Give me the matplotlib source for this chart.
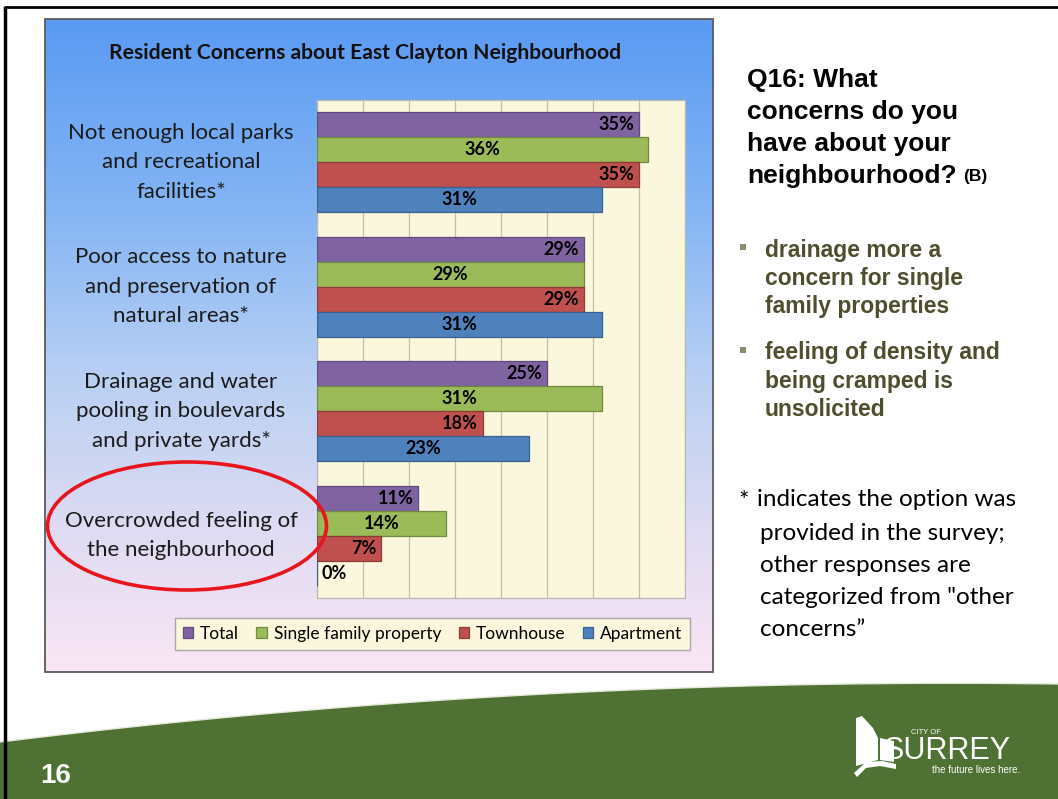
import numpy as np
import matplotlib
matplotlib.use("Agg")
import matplotlib.pyplot as plt
from matplotlib.patches import Rectangle, Ellipse, Polygon
from matplotlib.colors import LinearSegmentedColormap
import matplotlib.transforms as mtransforms

# ---- data -------------------------------------------------------------
categories = [
    "Not enough local parks\nand recreational\nfacilities*",
    "Poor access to nature\nand preservation of\nnatural areas*",
    "Drainage and water\npooling in boulevards\nand private yards*",
    "Overcrowded feeling of\nthe neighbourhood",
]
series_names = ["Total", "Single family property", "Townhouse", "Apartment"]
total = [35, 29, 25, 11]
single_family = [36, 29, 31, 14]
townhouse = [35, 29, 18, 7]
apartment = [31, 31, 23, 0]
x_grid = [0, 5, 10, 15, 20, 25, 30, 35, 40]

chart_title = "Resident Concerns about East Clayton Neighbourhood"
question_lines = ["Q16: What", "concerns do you", "have about your", "neighbourhood?"]
bullet_groups = [
    ["drainage more a", "concern for single", "family properties"],
    ["feeling of density and", "being cramped is", "unsolicited"],
]
footnote_lines = ["indicates the option was", "provided in the survey;",
                  "other responses are", "categorized from \"other",
                  "concerns\u201d"]

# ---- styling ------------------------------------------------------------
W, H = 1058, 799
bar_colors = ["#8064A2", "#9BBB59", "#C0504D", "#4F81BD"]
bar_edges = ["#5E4A7C", "#718A3F", "#8E3A37", "#3A6091"]
label_modes = ["end", "center", "end", "center"]
CAL = ["Lato", "DejaVu Sans"]
ARIAL = ["Liberation Sans", "DejaVu Sans"]

fig = plt.figure(figsize=(W / 100, H / 100), dpi=100)
fig.patch.set_facecolor("white")

# slide canvas in pixel coordinates
bg = fig.add_axes([0, 0, 1, 1])
bg.set_xlim(0, W)
bg.set_ylim(H, 0)
bg.axis("off")

# chart panel with vertical gradient
grad_cmap = LinearSegmentedColormap.from_list(
    "panel",
    [(0.0, "#5A9AF2"), (0.3, "#86B6F4"), (0.55, "#B9D0F3"),
     (0.78, "#DEDBF2"), (1.0, "#FAE6F4")])
grad = np.linspace(0, 1, 256).reshape(-1, 1)
bg.imshow(grad, extent=(45, 713, 672, 19), aspect="auto", cmap=grad_cmap,
          origin="upper", zorder=1)
bg.add_patch(Rectangle((45, 19), 668, 653, fill=False, ec="#5a5a5a",
                       lw=1.3, zorder=2))
bg.text(365, 53, chart_title, ha="center", va="center", fontsize=15.2,
        fontweight="bold", family=CAL, color="#111111", zorder=3)

# green footer band
xs = np.linspace(0, W, 80)
top_edge = 742 - 0.12344 * xs + 6.486e-5 * xs ** 2
band = np.vstack([np.column_stack([xs, top_edge]), [[W, H], [0, H]]])
bg.add_patch(Polygon(band, closed=True, fc="#4F7133", ec="none", zorder=2))
bg.plot(xs, top_edge, color="#e4ead9", lw=1.0, zorder=3)

# slide frame lines
bg.plot([5, 5], [6, H], color="black", lw=2.5, zorder=4, solid_capstyle="butt")
bg.plot([5, W], [7, 7], color="black", lw=2.0, zorder=4, solid_capstyle="butt")

# page number
bg.text(40, 776, "16", color="white", fontsize=20, fontweight="bold",
        family=ARIAL, ha="left", va="center", zorder=5)

# city logo
logo = dict(fc="white", ec="none", zorder=5)
bg.add_patch(Polygon([(856, 766), (856, 718), (862, 716), (873, 728),
                      (878, 738), (878, 760)], **logo))
bg.add_patch(Polygon([(880, 738), (894, 741), (894, 762), (880, 760)], **logo))
bg.add_patch(Polygon([(854, 773), (866, 762), (882, 761), (896, 764),
                      (896, 769), (880, 766), (866, 768), (857, 777)], **logo))
bg.text(911, 734, "CITY OF", color="white", fontsize=5.5, family=ARIAL,
        ha="left", va="baseline", zorder=5)
bg.text(884, 759, "SURREY", color="white", fontsize=22, family=ARIAL,
        ha="left", va="baseline", zorder=5)
bg.text(1020, 773, "the future lives here.", color="white", fontsize=7,
        family=ARIAL, ha="right", va="baseline", zorder=5)

# question heading
q_y = [80, 112, 144, 176]
last = None
for line, y in zip(question_lines, q_y):
    last = bg.text(747, y, line, fontsize=19, fontweight="bold", family=ARIAL,
                   ha="left", va="center", color="black", zorder=5)
bg.annotate("(B)", xy=(1, 0.5), xycoords=last, xytext=(7, 0),
            textcoords="offset pixels", fontsize=12.5, fontweight="bold",
            family=ARIAL, ha="left", va="center", color="black", zorder=5)

# bullet points
olive = "#4E4E2E"
bullet_start = [250, 353]
for lines, y0 in zip(bullet_groups, bullet_start):
    bg.add_patch(Rectangle((740, y0 - 6), 6, 6, fc="#8C8C70", ec="none", zorder=5))
    for i, line in enumerate(lines):
        bg.text(765, y0 + i * 28.5, line, fontsize=16.5, fontweight="bold",
                family=ARIAL, ha="left", va="center", color=olive, zorder=5)

# footnote
foot_y = [500, 533, 566, 598, 630]
bg.text(739, foot_y[0], "*", fontsize=17.5, family=CAL, ha="left",
        va="center", color="black", zorder=5)
for i, (line, y) in enumerate(zip(footnote_lines, foot_y)):
    bg.text(757 if i == 0 else 760, y, line, fontsize=17.5, family=CAL,
            ha="left", va="center", color="black", zorder=5)

# ---- bar chart ----------------------------------------------------------
ax = fig.add_axes([317 / W, 1 - 598 / H, 368 / W, 498 / H])
ax.set_facecolor("#FAF7DC")
ax.set_xlim(x_grid[0], x_grid[-1])
ax.set_ylim(len(categories) - 0.5, -0.5)
ax.set_xticks(x_grid)
ax.set_yticks([])
ax.tick_params(axis="x", length=0, labelbottom=False)
ax.grid(axis="x", color="#C2BFAA", lw=0.9)
ax.set_axisbelow(True)
for sp in ax.spines.values():
    sp.set_color("#B8B8B8")
    sp.set_linewidth(0.9)

series = [total, single_family, townhouse, apartment]
bar_h = 0.2
y_base = np.arange(len(categories))
handles = []
for k, (vals, name, col, edge, mode) in enumerate(
        zip(series, series_names, bar_colors, bar_edges, label_modes)):
    ypos = y_base + (k - 1.5) * bar_h
    bars = ax.barh(ypos, vals, height=bar_h, color=col, edgecolor=edge,
                   linewidth=0.9, label=name, zorder=3)
    handles.append(bars)
    for v, yy in zip(vals, ypos):
        txt = f"{v}%"
        if v == 0:
            ax.annotate(txt, xy=(0, yy), xytext=(5, 0), textcoords="offset pixels",
                        ha="left", va="center", fontsize=13, fontweight="bold",
                        family=CAL, color="black", zorder=4)
        elif mode == "end":
            ax.annotate(txt, xy=(v, yy), xytext=(-5, 0), textcoords="offset pixels",
                        ha="right", va="center", fontsize=13, fontweight="bold",
                        family=CAL, color="black", zorder=4)
        else:
            ax.text(v / 2, yy, txt, ha="center", va="center", fontsize=13,
                    fontweight="bold", family=CAL, color="black", zorder=4)

# category labels to the left of the plot
lab_trans = mtransforms.blended_transform_factory(ax.transAxes, ax.transData)
lab_x = (181 - 317) / 368
for i, cat in enumerate(categories):
    lines = cat.split("\n")
    n = len(lines)
    for j, line in enumerate(lines):
        off = (j - (n - 1) / 2) * 29.5
        ax.annotate(line, xy=(lab_x, i), xycoords=lab_trans, xytext=(0, -off),
                    textcoords="offset pixels", ha="center", va="center",
                    fontsize=16, family=CAL, color="#1a1a1a",
                    annotation_clip=False)

leg = ax.legend(handles=handles, loc="center",
                bbox_to_anchor=(432.5 / W, 1 - 634 / H),
                bbox_transform=fig.transFigure, ncol=4, frameon=True,
                fancybox=False, edgecolor="#A8A8A8", facecolor="#FAF7DC",
                framealpha=1, prop={"family": CAL, "size": 12.5},
                handlelength=0.6, handleheight=0.6, handletextpad=0.4,
                columnspacing=1.0, borderpad=0.45)
leg.get_frame().set_linewidth(1.0)

# highlight ring around the last category
ov = fig.add_axes([0, 0, 1, 1])
ov.set_xlim(0, W)
ov.set_ylim(H, 0)
ov.axis("off")
ov.patch.set_alpha(0)
ov.add_patch(Ellipse((187, 526), 279, 128, fill=False, ec="#E8161C", lw=2.6))

fig.savefig("out.png", dpi=100)
